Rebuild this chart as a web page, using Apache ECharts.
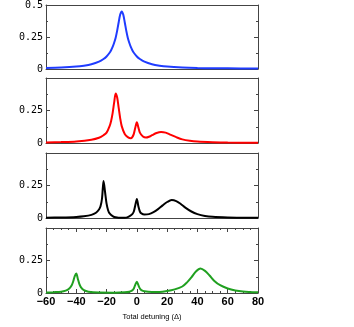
<!DOCTYPE html>
<html>
<head>
<meta charset="utf-8">
<script src="https://cdn.jsdelivr.net/npm/echarts@6/dist/echarts.min.js"></script>
<style>html,body{margin:0;padding:0;background:#fff}#c{width:354px;height:327px}</style>
</head>
<body>
<div id="c"></div>
<script>
// Panel 1 (blue)
const blueX = [-60,-50,-40,-35,-30,-25,-22,-20,-18,-17,-16,-15,-14,-13,-12,-11,-10,-9,-8,-7,-6,-5,-4,-3,-2,0,2,5,10,15,20,30,40,50,60,80];
const blueY = [0.008,0.012,0.019,0.026,0.037,0.057,0.078,0.098,0.127,0.147,0.172,0.205,0.245,0.3,0.365,0.425,0.45,0.425,0.365,0.3,0.245,0.205,0.172,0.147,0.127,0.098,0.078,0.057,0.037,0.026,0.019,0.012,0.008,0.006,0.005,0.003];
// Panel 2 (red)
const redX = [-60,-50,-40,-30,-25,-22,-20,-18,-17,-16,-15,-14,-13,-12,-11,-10,-8,-6,-4,-3,-2,-1,0,1,2,4,6,8,10,13,16,19,22,26,30,35,40,50,60,80];
const redY = [0.004,0.007,0.012,0.025,0.04,0.06,0.08,0.13,0.17,0.23,0.31,0.38,0.35,0.27,0.19,0.13,0.07,0.045,0.036,0.045,0.07,0.12,0.16,0.12,0.08,0.05,0.042,0.048,0.06,0.077,0.085,0.08,0.065,0.045,0.028,0.017,0.011,0.006,0.003,0.001];
// Panel 3 (black)
const blackX = [-60,-50,-40,-35,-30,-27,-25,-24,-23,-22,-21,-20,-19,-18,-16,-14,-10,-7,-5,-3,-2,-1,0,1,2,3,5,8,11,14,17,20,23,26,29,32,36,40,45,50,60,70,80];
const blackY = [0.002,0.004,0.008,0.013,0.024,0.04,0.065,0.09,0.15,0.285,0.2,0.11,0.06,0.035,0.015,0.005,0.001,0.003,0.012,0.03,0.05,0.1,0.146,0.09,0.05,0.035,0.027,0.03,0.045,0.068,0.097,0.123,0.138,0.13,0.108,0.08,0.05,0.03,0.016,0.009,0.004,0.002,0.001];
// Panel 4 (green)
const greenX = [-60,-55,-50,-47,-45,-43,-42,-41,-40,-39,-38,-37,-35,-32,-25,-15,-8,-5,-3,-2,-1,0,1,2,3,5,10,15,20,25,30,33,36,39,42,45,48,51,55,60,65,70,80];
const greenY = [0.003,0.006,0.01,0.018,0.03,0.06,0.09,0.13,0.15,0.11,0.07,0.045,0.022,0.01,0.003,0.002,0.005,0.01,0.02,0.035,0.065,0.087,0.06,0.035,0.022,0.013,0.008,0.008,0.015,0.028,0.05,0.08,0.12,0.165,0.188,0.17,0.135,0.095,0.06,0.035,0.02,0.012,0.005];

const xTicks = { min: -60, max: 80, interval: 20 };
const yTicks = { min: 0, max: 0.5, interval: 0.25 };

const series = [[blueX, blueY, '#1f3cff'], [redX, redY, '#ff0000'], [blackX, blackY, '#000000'], [greenX, greenY, '#20a020']];
const tops = [4, 78, 153, 228];
const H = 65;
const frame = '#444';

const grid = [], xAxis = [], yAxis = [], ser = [];
series.forEach((s, i) => {
  grid.push({ left: 46, width: 212, top: tops[i], height: H });
  const last = i === 3;
  xAxis.push({
    type: 'value', gridIndex: i, min: xTicks.min, max: xTicks.max, interval: xTicks.interval,
    axisLine: { onZero: false, lineStyle: { color: frame, width: 1 } },
    axisTick: { show: last, inside: true, length: 4, lineStyle: { color: frame } },
    minorTick: { show: last, splitNumber: 4, length: 2, lineStyle: { color: frame } },
    axisLabel: { show: last, color: '#000', fontFamily: 'Liberation Sans', fontWeight: 'bold', fontSize: 11, margin: 3,
      formatter: v => (v < 0 ? '\u2212' + Math.abs(v) : '' + v) },
    splitLine: { show: false },
    name: last ? 'Total detuning (\u0394)' : '', nameLocation: 'middle', nameGap: 20,
    nameTextStyle: { fontFamily: 'Liberation Sans', fontSize: 7.5, color: '#000' }
  });
  xAxis.push({
    type: 'value', gridIndex: i, position: 'top', min: xTicks.min, max: xTicks.max, interval: xTicks.interval,
    axisLine: { onZero: false, lineStyle: { color: frame, width: 1 } },
    axisTick: { show: last, inside: true, length: 4, lineStyle: { color: frame } },
    minorTick: { show: last, splitNumber: 4, length: 2, lineStyle: { color: frame } },
    axisLabel: { show: false }, splitLine: { show: false }
  });
  yAxis.push({
    type: 'value', gridIndex: i, min: yTicks.min, max: yTicks.max, interval: yTicks.interval,
    axisLine: { show: true, onZero: false, lineStyle: { color: frame, width: 1 } },
    axisTick: { show: true, inside: true, length: 4, lineStyle: { color: frame } },
    minorTick: { show: true, splitNumber: 2, length: 2, lineStyle: { color: frame } },
    axisLabel: { color: '#000', fontFamily: 'DejaVu Sans Mono', fontSize: 10, margin: 3,
      formatter: v => (v === 0 ? '0' : (v === 0.5 ? (i === 0 ? '0.5' : '') : String(v))) },
    splitLine: { show: false }
  });
  yAxis.push({
    type: 'value', gridIndex: i, position: 'right', min: yTicks.min, max: yTicks.max, interval: yTicks.interval,
    axisLine: { show: true, onZero: false, lineStyle: { color: frame, width: 1 } },
    axisTick: { show: true, inside: true, length: 4, lineStyle: { color: frame } },
    minorTick: { show: true, splitNumber: 2, length: 2, lineStyle: { color: frame } },
    axisLabel: { show: false }, splitLine: { show: false }
  });
  ser.push({
    type: 'line', xAxisIndex: i * 2, yAxisIndex: i * 2,
    data: s[0].map((x, k) => [x, s[1][k]]),
    smooth: 0.3, symbol: 'none', lineStyle: { color: s[2], width: 2 }, z: 3
  });
});

const chart = echarts.init(document.getElementById('c'), null, { renderer: 'canvas' });
chart.setOption({ animation: false, grid, xAxis, yAxis, series: ser });
</script>
</body>
</html>
